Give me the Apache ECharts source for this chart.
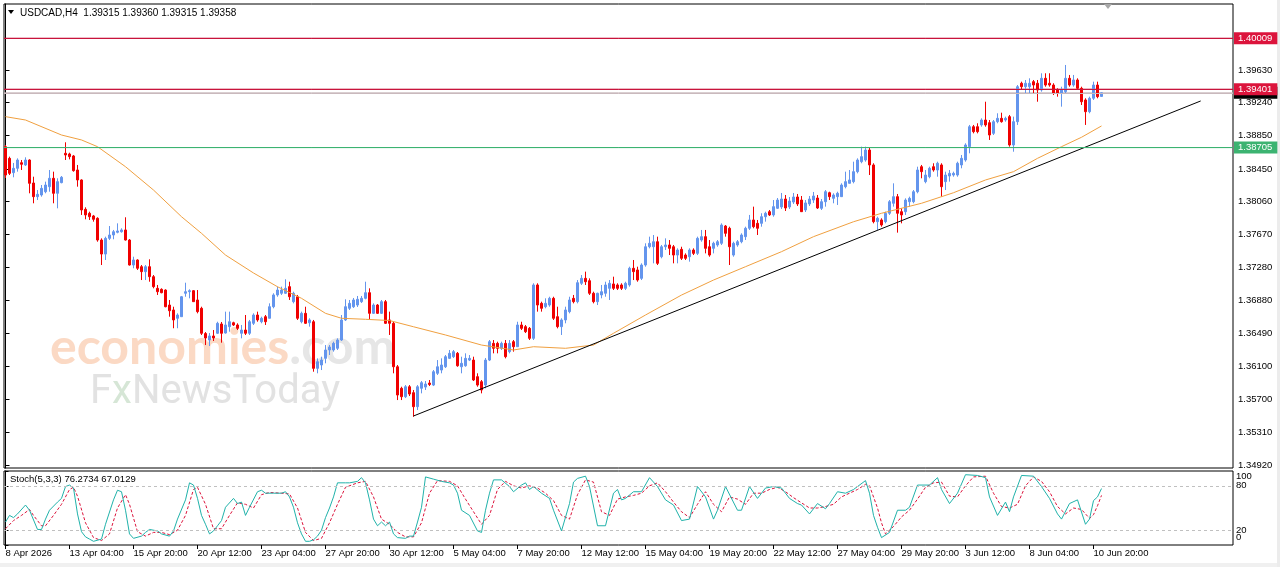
<!DOCTYPE html>
<html><head><meta charset="utf-8">
<script src="https://cdn.jsdelivr.net/npm/echarts@6/dist/echarts.min.js"></script>
<style>html,body{margin:0;padding:0;background:#fff}#c{width:1280px;height:567px}</style>
</head><body><div id="c"></div>
<script>
// ---- data (H4 bars, USDCAD) ----
const openP = [1.38716,1.38577,1.38406,1.38458,1.38525,1.38498,1.38557,1.38283,1.38120,1.38140,1.38179,1.38239,1.38339,1.38160,1.38287,1.38637,1.38629,1.38605,1.38438,1.38319,1.37969,1.37922,1.37890,1.37862,1.37603,1.37436,1.37623,1.37663,1.37695,1.37702,1.37723,1.37603,1.37305,1.37365,1.37285,1.37226,1.37285,1.37166,1.37027,1.37015,1.37007,1.36828,1.36769,1.36670,1.36689,1.36968,1.36987,1.36999,1.36888,1.36789,1.36488,1.36411,1.36459,1.36491,1.36602,1.36494,1.36570,1.36617,1.36590,1.36491,1.36530,1.36491,1.36610,1.36709,1.36629,1.36689,1.36670,1.36808,1.36948,1.36968,1.36968,1.37047,1.36868,1.36927,1.36629,1.36729,1.36617,1.36629,1.36073,1.36113,1.36192,1.36292,1.36292,1.36312,1.36411,1.36650,1.36789,1.36808,1.36828,1.36868,1.36908,1.36975,1.36729,1.36828,1.36729,1.36868,1.36650,1.36610,1.36092,1.35835,1.35735,1.35854,1.35783,1.35616,1.35835,1.35850,1.35898,1.35874,1.36014,1.36053,1.36092,1.36192,1.36212,1.36252,1.36092,1.36104,1.36172,1.36172,1.35974,1.35914,1.35874,1.36172,1.36371,1.36371,1.36312,1.36371,1.36272,1.36391,1.36331,1.36590,1.36570,1.36550,1.36431,1.37067,1.36848,1.36808,1.36828,1.36908,1.36689,1.36570,1.36650,1.36749,1.36908,1.36868,1.37087,1.37146,1.37118,1.36968,1.36868,1.36948,1.36968,1.37027,1.37079,1.37067,1.37067,1.37027,1.37067,1.37266,1.37246,1.37146,1.37305,1.37523,1.37523,1.37583,1.37404,1.37523,1.37544,1.37523,1.37424,1.37492,1.37424,1.37404,1.37484,1.37444,1.37603,1.37643,1.37523,1.37504,1.37544,1.37564,1.37770,1.37743,1.37424,1.37544,1.37583,1.37643,1.37743,1.37842,1.37802,1.37802,1.37881,1.37941,1.37902,1.37981,1.37997,1.38092,1.37997,1.38056,1.38116,1.38080,1.37961,1.38033,1.38080,1.38104,1.37981,1.38060,1.38167,1.38100,1.38120,1.38120,1.38239,1.38279,1.38299,1.38418,1.38537,1.38557,1.38676,1.38498,1.37822,1.37842,1.37822,1.37922,1.38041,1.38120,1.37941,1.37941,1.38060,1.38060,1.38179,1.38477,1.38299,1.38358,1.38477,1.38438,1.38498,1.38299,1.38366,1.38378,1.38378,1.38498,1.38557,1.38716,1.38954,1.38954,1.38975,1.39034,1.39002,1.38875,1.39014,1.39054,1.39034,1.39074,1.38736,1.39014,1.39472,1.39431,1.39431,1.39491,1.39472,1.39392,1.39531,1.39472,1.39451,1.39392,1.39352,1.39372,1.39531,1.39451,1.39511,1.39412,1.39273,1.39133,1.39293,1.39451,1.39315];
const highP = [1.38736,1.38597,1.38522,1.38577,1.38557,1.38589,1.38565,1.38358,1.38199,1.38259,1.38299,1.38438,1.38418,1.38339,1.38366,1.38768,1.38644,1.38617,1.38498,1.38327,1.37993,1.37941,1.37902,1.37874,1.37623,1.37643,1.37770,1.37723,1.37802,1.37743,1.37874,1.37615,1.37404,1.37373,1.37305,1.37305,1.37373,1.37186,1.37067,1.37027,1.37015,1.36888,1.36808,1.36729,1.36936,1.37094,1.37015,1.37007,1.37007,1.36808,1.36506,1.36494,1.36530,1.36629,1.36626,1.36749,1.36749,1.36629,1.36610,1.36590,1.36709,1.36650,1.36729,1.36749,1.36689,1.36709,1.36848,1.36968,1.37047,1.37047,1.37135,1.37106,1.36987,1.36948,1.36749,1.36808,1.36670,1.36650,1.36192,1.36212,1.36351,1.36351,1.36391,1.36431,1.36709,1.36896,1.36888,1.36912,1.36936,1.36936,1.37106,1.37027,1.36848,1.36840,1.36888,1.36888,1.36749,1.36626,1.36113,1.35854,1.35874,1.35874,1.35815,1.35874,1.35922,1.35922,1.35934,1.36053,1.36172,1.36192,1.36232,1.36292,1.36292,1.36268,1.36212,1.36252,1.36232,1.36212,1.36014,1.35934,1.36196,1.36411,1.36411,1.36391,1.36391,1.36411,1.36411,1.36411,1.36629,1.36629,1.36590,1.36566,1.37087,1.37087,1.36868,1.36908,1.36927,1.36927,1.36808,1.36670,1.36808,1.36927,1.36948,1.37126,1.37186,1.37226,1.37146,1.36987,1.36975,1.37067,1.37106,1.37126,1.37166,1.37087,1.37087,1.37106,1.37285,1.37365,1.37285,1.37325,1.37564,1.37643,1.37663,1.37643,1.37544,1.37623,1.37603,1.37544,1.37504,1.37523,1.37444,1.37504,1.37504,1.37643,1.37723,1.37723,1.37603,1.37583,1.37603,1.37802,1.37782,1.37762,1.37583,1.37603,1.37683,1.37762,1.37902,1.38001,1.37842,1.37922,1.37941,1.37961,1.38080,1.38104,1.38164,1.38140,1.38116,1.38164,1.38152,1.38128,1.38080,1.38128,1.38176,1.38140,1.38092,1.38199,1.38179,1.38160,1.38179,1.38279,1.38418,1.38438,1.38537,1.38577,1.38716,1.38716,1.38709,1.38518,1.37881,1.37862,1.37941,1.38080,1.38279,1.38152,1.37981,1.38100,1.38120,1.38199,1.38477,1.38498,1.38438,1.38477,1.38518,1.38537,1.38518,1.38418,1.38438,1.38418,1.38537,1.38617,1.38756,1.38975,1.38975,1.38995,1.39054,1.39252,1.39034,1.39034,1.39114,1.39121,1.39074,1.39094,1.39074,1.39451,1.39491,1.39511,1.39531,1.39511,1.39511,1.39591,1.39591,1.39591,1.39472,1.39412,1.39431,1.39690,1.39571,1.39571,1.39531,1.39431,1.39293,1.39312,1.39491,1.39491,1.39360];
const lowP = [1.38342,1.38378,1.38351,1.38418,1.38438,1.38486,1.38160,1.38041,1.38080,1.38120,1.38160,1.38179,1.38041,1.37981,1.38279,1.38557,1.38565,1.38418,1.38239,1.37902,1.37850,1.37842,1.37822,1.37583,1.37305,1.37365,1.37603,1.37612,1.37683,1.37691,1.37597,1.37299,1.37266,1.37246,1.37126,1.37126,1.37106,1.37027,1.36948,1.36968,1.36801,1.36689,1.36551,1.36551,1.36689,1.36927,1.36908,1.36868,1.36729,1.36471,1.36351,1.36339,1.36399,1.36483,1.36379,1.36488,1.36510,1.36578,1.36530,1.36431,1.36471,1.36471,1.36590,1.36629,1.36610,1.36590,1.36670,1.36789,1.36927,1.36948,1.36960,1.36888,1.36848,1.36650,1.36610,1.36602,1.36570,1.36033,1.36014,1.36053,1.36133,1.36232,1.36272,1.36292,1.36399,1.36638,1.36769,1.36793,1.36805,1.36852,1.36896,1.36650,1.36721,1.36721,1.36721,1.36602,1.36471,1.36014,1.35695,1.35695,1.35719,1.35743,1.35496,1.35576,1.35775,1.35815,1.35862,1.35862,1.35994,1.36014,1.36077,1.36184,1.36196,1.36092,1.36014,1.36092,1.36160,1.35922,1.35854,1.35775,1.35835,1.36160,1.36252,1.36252,1.36292,1.36192,1.36252,1.36272,1.36331,1.36530,1.36494,1.36411,1.36411,1.36749,1.36749,1.36789,1.36808,1.36650,1.36550,1.36471,1.36610,1.36729,1.36848,1.36848,1.37067,1.37067,1.36948,1.36848,1.36828,1.36908,1.36927,1.36888,1.37007,1.37007,1.37007,1.37007,1.37047,1.37126,1.37106,1.37126,1.37285,1.37504,1.37325,1.37305,1.37385,1.37484,1.37424,1.37325,1.37325,1.37365,1.37365,1.37345,1.37424,1.37424,1.37583,1.37444,1.37404,1.37444,1.37523,1.37544,1.37643,1.37305,1.37404,1.37523,1.37564,1.37603,1.37723,1.37743,1.37663,1.37762,1.37822,1.37890,1.37881,1.37973,1.37973,1.37949,1.37973,1.38033,1.38009,1.37937,1.37937,1.38009,1.38045,1.37973,1.37961,1.38001,1.38080,1.38041,1.38021,1.38116,1.38219,1.38279,1.38279,1.38398,1.38518,1.38537,1.38378,1.37802,1.37723,1.37762,1.37802,1.37902,1.38001,1.37691,1.37802,1.37902,1.38001,1.38041,1.38160,1.38339,1.38279,1.38339,1.38418,1.38358,1.38120,1.38199,1.38299,1.38358,1.38358,1.38458,1.38537,1.38637,1.38875,1.38875,1.38954,1.38954,1.38796,1.38855,1.38995,1.39002,1.39014,1.38716,1.38656,1.38975,1.39392,1.39352,1.39352,1.39352,1.39252,1.39372,1.39431,1.39431,1.39332,1.39312,1.39193,1.39352,1.39431,1.39431,1.39392,1.39213,1.38975,1.39114,1.39273,1.39293,1.39315];
const closeP = [1.38378,1.38398,1.38458,1.38557,1.38506,1.38557,1.38279,1.38120,1.38148,1.38219,1.38259,1.38339,1.38160,1.38299,1.38351,1.38617,1.38597,1.38430,1.38319,1.37961,1.37902,1.37881,1.37850,1.37603,1.37436,1.37623,1.37663,1.37702,1.37711,1.37723,1.37603,1.37305,1.37365,1.37266,1.37226,1.37285,1.37166,1.37047,1.36987,1.36975,1.36808,1.36760,1.36650,1.36709,1.36927,1.36987,1.36999,1.36868,1.36749,1.36491,1.36435,1.36459,1.36435,1.36610,1.36491,1.36590,1.36629,1.36590,1.36550,1.36530,1.36491,1.36629,1.36709,1.36650,1.36670,1.36629,1.36808,1.36948,1.37007,1.37007,1.37027,1.36927,1.36968,1.36670,1.36729,1.36610,1.36650,1.36073,1.36152,1.36172,1.36292,1.36327,1.36371,1.36411,1.36650,1.36808,1.36848,1.36888,1.36896,1.36908,1.36975,1.36729,1.36828,1.36729,1.36868,1.36610,1.36610,1.36092,1.35755,1.35735,1.35854,1.35767,1.35616,1.35854,1.35902,1.35886,1.35880,1.36033,1.36092,1.36113,1.36212,1.36252,1.36272,1.36104,1.36133,1.36192,1.36192,1.35934,1.35874,1.35815,1.36172,1.36391,1.36312,1.36312,1.36371,1.36212,1.36371,1.36331,1.36590,1.36550,1.36510,1.36431,1.37067,1.36828,1.36789,1.36848,1.36908,1.36670,1.36570,1.36650,1.36769,1.36888,1.36868,1.37094,1.37146,1.37106,1.36968,1.36868,1.36968,1.36987,1.37067,1.37087,1.37027,1.37027,1.37027,1.37087,1.37266,1.37226,1.37126,1.37305,1.37523,1.37564,1.37583,1.37325,1.37523,1.37544,1.37504,1.37424,1.37484,1.37385,1.37385,1.37484,1.37444,1.37623,1.37643,1.37504,1.37424,1.37564,1.37583,1.37782,1.37683,1.37523,1.37564,1.37583,1.37663,1.37743,1.37842,1.37762,1.37743,1.37881,1.37922,1.37902,1.38001,1.38080,1.38092,1.37985,1.38068,1.38116,1.38033,1.37941,1.38045,1.38092,1.38128,1.37985,1.38060,1.38179,1.38120,1.38140,1.38160,1.38259,1.38299,1.38319,1.38418,1.38557,1.38597,1.38676,1.38498,1.37822,1.37862,1.37782,1.37922,1.38060,1.38120,1.37922,1.37902,1.38080,1.38100,1.38179,1.38438,1.38418,1.38378,1.38458,1.38438,1.38518,1.38239,1.38378,1.38398,1.38398,1.38518,1.38577,1.38736,1.38954,1.38895,1.38895,1.39034,1.38975,1.38855,1.39014,1.39054,1.39014,1.39054,1.38736,1.39014,1.39431,1.39431,1.39472,1.39472,1.39451,1.39392,1.39531,1.39451,1.39451,1.39352,1.39352,1.39392,1.39531,1.39451,1.39511,1.39412,1.39252,1.39133,1.39293,1.39451,1.39312,1.39358];

// moving average (read at sample bars): [bar, price]
const maLine = [[0,1.39074],[5,1.39034],[14,1.38855],[19,1.38796],[23,1.38716],[30,1.38477],[37,1.38199],[44,1.37881],[49,1.37683],[55,1.37424],[62,1.37210],[68,1.37046],[74,1.36908],[80,1.36729],[84,1.36670],[90,1.36658],[96,1.36643],[102,1.36569],[110,1.36471],[119,1.36351],[127,1.36292],[132,1.36331],[140,1.36312],[147,1.36351],[152,1.36491],[160,1.36709],[169,1.36947],[177,1.37126],[185,1.37285],[194,1.37464],[202,1.37643],[212,1.37821],[219,1.37922],[229,1.38041],[237,1.38167],[245,1.38319],[252,1.38418],[258,1.38577],[264,1.38716],[269,1.38828],[274,1.38963]];
// trend line: [bar, price]
const trendLine = [[102,1.35505],[298.8,1.39261]];
// horizontal levels (drawn in this order: later ones on top)
const levelValues = [1.39358, 1.40009, 1.39401, 1.38705];
const levelLineColors = ['#c9b9bd', '#c8143c', '#c8143c', '#3cb371'];
const levelBoxColors = ['#000000', '#dc143c', '#dc143c', '#3cb371'];

// stochastic %K and %D: [bar, value]
const stochK = [[0,31],[1,40],[2,37],[3,42],[5,54],[6,47],[8,21],[9,21],[10,35],[11,47],[13,58],[14,63],[15,79],[16,81],[17,77],[18,42],[19,18],[20,11],[21,8],[22,5],[24,8],[25,28],[27,61],[28,74],[29,72],[30,47],[31,15],[32,9],[34,12],[35,17],[36,21],[38,19],[39,15],[41,12],[42,19],[43,35],[45,61],[46,84],[47,81],[48,63],[49,40],[50,28],[51,15],[52,19],[53,26],[54,33],[55,51],[57,63],[58,56],[59,58],[60,40],[61,51],[63,72],[64,74],[65,70],[67,70],[69,70],[70,72],[71,65],[72,51],[73,30],[74,15],[75,5],[76,5],[77,7],[78,12],[79,20],[80,37],[81,50],[82,65],[83,84],[85,84],[86,84],[88,86],[89,91],[90,84],[91,61],[92,35],[93,26],[94,31],[95,26],[96,31],[97,15],[98,10],[100,9],[101,12],[102,12],[103,31],[104,51],[105,92],[107,89],[109,86],[111,84],[112,81],[113,70],[114,47],[116,40],[118,19],[119,17],[120,47],[121,70],[122,88],[124,88],[126,79],[127,72],[129,81],[130,84],[131,75],[132,79],[134,70],[136,63],[137,47],[139,19],[141,56],[142,85],[143,90],[145,93],[146,79],[148,26],[150,26],[152,70],[153,75],[154,61],[155,63],[157,72],[159,72],[161,91],[163,79],[165,61],[167,54],[169,33],[171,35],[173,79],[175,65],[177,35],[178,47],[180,79],[183,47],[184,47],[186,79],[188,63],[190,77],[192,79],[194,77],[196,63],[198,56],[199,54],[201,42],[203,56],[205,49],[206,56],[208,72],[210,70],[212,75],[215,87],[216,70],[217,40],[218,24],[219,10],[221,17],[223,47],[225,47],[226,51],[228,81],[231,81],[233,91],[234,75],[236,56],[238,70],[240,95],[243,94],[245,91],[246,65],[248,40],[250,58],[251,45],[252,65],[254,94],[257,93],[259,79],[261,63],[263,42],[264,35],[266,56],[268,61],[270,28],[271,35],[272,60],[273,65],[274,76.2734]];
const stochD = [[0,22],[2,33],[4,40],[6,48],[7,40],[9,26],[10,26],[12,40],[14,55],[16,75],[17,78],[18,66],[20,30],[22,10],[24,6],[26,15],[28,50],[30,68],[31,55],[33,18],[35,12],[37,17],[39,17],[41,14],[43,20],[45,40],[47,75],[48,78],[50,55],[52,22],[54,22],[56,40],[58,57],[60,55],[62,50],[64,68],[66,71],[69,70],[71,69],[73,50],[75,17],[77,6],[79,9],[81,30],[83,55],[85,78],[88,84],[90,86],[92,65],[94,35],[96,28],[98,17],[100,11],[102,11],[104,30],[106,70],[108,87],[111,86],[113,80],[115,62],[117,45],[119,28],[121,40],[123,75],[125,86],[127,80],[129,77],[131,80],[133,77],[135,70],[137,60],[139,40],[141,35],[143,68],[145,88],[147,85],[149,45],[151,40],[153,62],[155,65],[157,67],[159,70],[161,80],[163,84],[165,72],[167,58],[169,45],[171,37],[173,55],[175,72],[177,55],[179,45],[181,65],[183,62],[185,55],[187,70],[189,70],[191,75],[193,78],[195,72],[197,64],[199,57],[201,50],[203,50],[205,52],[207,55],[209,65],[211,70],[213,75],[215,82],[216,80],[218,50],[219,30],[220,15],[222,25],[224,38],[226,47],[228,62],[230,78],[232,84],[234,85],[236,66],[238,65],[240,80],[242,92],[245,93],[247,70],[249,52],[251,50],[253,55],[255,80],[257,92],[259,86],[261,72],[263,52],[265,42],[267,50],[269,48],[271,36],[272,41],[273,53],[274,67.0129]];

// axis ticks
const priceTicks = [1.34920,1.35310,1.35700,1.36100,1.36490,1.36880,1.37280,1.37670,1.38060,1.38450,1.38850,1.39240,1.39630];
const timeTickBars = [0,16,32,48,64,80,96,112,128,144,160,176,192,208,224,240,256,272];
const timeTickLabels = ['8 Apr 2026','13 Apr 04:00','15 Apr 20:00','20 Apr 12:00','23 Apr 04:00','27 Apr 20:00','30 Apr 12:00','5 May 04:00','7 May 20:00','12 May 12:00','15 May 04:00','19 May 20:00','22 May 12:00','27 May 04:00','29 May 20:00','3 Jun 12:00','8 Jun 04:00','10 Jun 20:00'];
const stochTicks = [0,20,80,100];
const stochInnerLabels = ['20','80'];
const stochEdgeLabels = ['0','100'];

// ---- chart ----
const FONT = '"Liberation Sans", Arial, sans-serif';
const X_MIN = -0.375, X_MAX = 306.875;
const candles = openP.map((o, i) => [i, o, closeP[i], lowP[i], highP[i]]);
const chart = echarts.init(document.getElementById('c'), null, {renderer: 'canvas'});

// MT4 tucks the 0/100 labels inside the sub-window; place them slightly inward
const stochInnerPos = [20, 80];
const stochEdgePos = [10.8, 93.2];
const nearestIdx = (arr, v) => { let b = -1, d = 1e9; arr.forEach((a, i) => { const e = Math.abs(a - v); if (e < d) { d = e; b = i; } }); return d < 0.01 ? b : -1; };

const levelSeries = levelValues.map((lv, k) => ({
  type: 'line', xAxisIndex: 0, yAxisIndex: 0, z: 2, silent: true,
  data: [[X_MIN, lv], [X_MAX, lv]], showSymbol: false, symbol: 'none',
  lineStyle: {color: levelLineColors[k], width: 1},
  markLine: {symbol: ['none', 'none'], silent: true, animation: false, precision: 5, z: 5 + k,
    lineStyle: {color: levelLineColors[k], width: 1, type: 'solid'},
    label: {show: true, position: 'end', distance: 1, color: '#fff', backgroundColor: levelBoxColors[k], fontSize: 9.5, fontFamily: FONT, padding: [1, 5, 1, 4], formatter: p => Number(p.value).toFixed(5)},
    data: [{yAxis: lv}]}
}));

const stochAxisBase = {type: 'value', gridIndex: 1, position: 'right', min: 0, max: 100, splitLine: {show: false}};

chart.setOption({
  animation: false,
  backgroundColor: '#ffffff',
  grid: [
    {left: 4, right: 47, top: 4, height: 464, show: true, borderColor: '#000', borderWidth: 1},
    {left: 4, right: 47, top: 471, height: 74, show: true, borderColor: '#000', borderWidth: 1}
  ],
  xAxis: [
    {type: 'value', gridIndex: 0, min: X_MIN, max: X_MAX, axisLine: {show: false}, axisTick: {show: false}, axisLabel: {show: false}, splitLine: {show: false}},
    {type: 'value', gridIndex: 1, min: X_MIN, max: X_MAX, axisLine: {show: false},
      axisTick: {show: true, customValues: timeTickBars, length: 4, lineStyle: {color: '#000'}},
      axisLabel: {customValues: timeTickBars, hideOverlap: false, formatter: v => timeTickLabels[nearestIdx(timeTickBars, v)] || '', align: 'left', verticalAlign: 'top', padding: [0, 0, 0, 0], margin: 3, color: '#000', fontSize: 9.5, fontFamily: FONT},
      splitLine: {show: false}}
  ],
  yAxis: [
    {type: 'value', gridIndex: 0, position: 'right', min: 1.34885, max: 1.40417, scale: true,
      axisLine: {show: true, lineStyle: {color: '#000'}},
      axisTick: {show: true, customValues: priceTicks, length: 4, lineStyle: {color: '#000'}},
      axisLabel: {customValues: priceTicks, hideOverlap: false, formatter: v => v.toFixed(5), margin: 5, color: '#000', fontSize: 9.5, fontFamily: FONT},
      splitLine: {show: false}},
    Object.assign({}, stochAxisBase, {
      axisLine: {show: true, lineStyle: {color: '#000'}},
      axisTick: {show: true, customValues: stochTicks, length: 3, lineStyle: {color: '#000'}},
      axisLabel: {customValues: stochInnerPos, hideOverlap: false, margin: 3, color: '#000', fontSize: 9.5, fontFamily: FONT,
        formatter: v => stochInnerLabels[nearestIdx(stochInnerPos, v)] || ''}}),
    Object.assign({}, stochAxisBase, {
      axisLine: {show: false}, axisTick: {show: false},
      axisLabel: {customValues: stochEdgePos, hideOverlap: false, margin: 3, color: '#000', fontSize: 9.5, fontFamily: FONT,
        formatter: v => stochEdgeLabels[nearestIdx(stochEdgePos, v)] || ''}})
  ],
  series: levelSeries.concat([
    {type: 'candlestick', xAxisIndex: 0, yAxisIndex: 0, data: candles, encode: {x: 0, y: [1, 2, 3, 4]},
      barWidth: 2, z: 3,
      itemStyle: {color: '#6495ed', color0: '#f00000', borderColor: '#6495ed', borderColor0: '#f00000', borderWidth: 1}},
    {type: 'line', xAxisIndex: 0, yAxisIndex: 0, data: maLine, showSymbol: false, symbol: 'none', z: 4,
      lineStyle: {color: '#f0a040', width: 1}},
    {type: 'line', xAxisIndex: 0, yAxisIndex: 0, data: trendLine, showSymbol: false, symbol: 'none', z: 4,
      lineStyle: {color: '#000', width: 1}},
    {type: 'line', xAxisIndex: 1, yAxisIndex: 1, data: stochK, showSymbol: false, symbol: 'none', z: 4,
      lineStyle: {color: '#20b2aa', width: 1},
      markLine: {symbol: ['none', 'none'], silent: true, label: {show: false},
        lineStyle: {color: '#c0c0c0', type: [3, 3], width: 1},
        data: [{yAxis: 20}, {yAxis: 80}]}},
    {type: 'line', xAxisIndex: 1, yAxisIndex: 1, data: stochD, showSymbol: false, symbol: 'none', z: 3,
      lineStyle: {color: '#dc143c', width: 1, type: [3, 2]}}
  ]),
  graphic: [
    {type: 'text', x: 50, y: 348, z: 1, silent: true,
      style: {text: '{a|economies}{b|.com}', verticalAlign: 'middle',
        rich: {a: {fontSize: 50, fontFamily: 'Lato, sans-serif', fontWeight: 'bold', fill: '#fbd9c4'}, b: {fontSize: 50, fontFamily: 'Lato, sans-serif', fontWeight: 'bold', fill: '#e6e6e6'}}}},
    {type: 'text', x: 90, y: 393, z: 1, silent: true,
      style: {text: '{a|F}{x|x}{a|NewsToday}', verticalAlign: 'middle',
        rich: {a: {fontSize: 40, fontFamily: 'Roboto, sans-serif', fill: '#e2e2e2'}, x: {fontSize: 40, fontFamily: 'Roboto, sans-serif', fill: '#d6e6d6'}}}},
    {type: 'polygon', z: 10, shape: {points: [[8, 10], [14, 10], [11, 14]]}, style: {fill: '#000'}},
    {type: 'text', x: 20, y: 13, z: 10, style: {text: 'USDCAD,H4  1.39315 1.39360 1.39315 1.39358', fontSize: 10, fontFamily: FONT, fill: '#000', verticalAlign: 'middle'}},
    {type: 'text', x: 10, y: 479, z: 10, style: {text: 'Stoch(5,3,3) 76.2734 67.0129', fontSize: 9.5, fontFamily: FONT, fill: '#000', verticalAlign: 'middle'}},
    {type: 'polygon', z: 10, shape: {points: [[1104, 4], [1112, 4], [1108, 9]]}, style: {fill: '#a8a8a8'}},
    {type: 'rect', z: 0, shape: {x: 0, y: 563, width: 1280, height: 4}, style: {fill: '#f0f0f0'}},
    {type: 'rect', z: 0, shape: {x: 1277, y: 0, width: 3, height: 567}, style: {fill: '#ececec'}}
  ]
});
</script>
</body></html>
